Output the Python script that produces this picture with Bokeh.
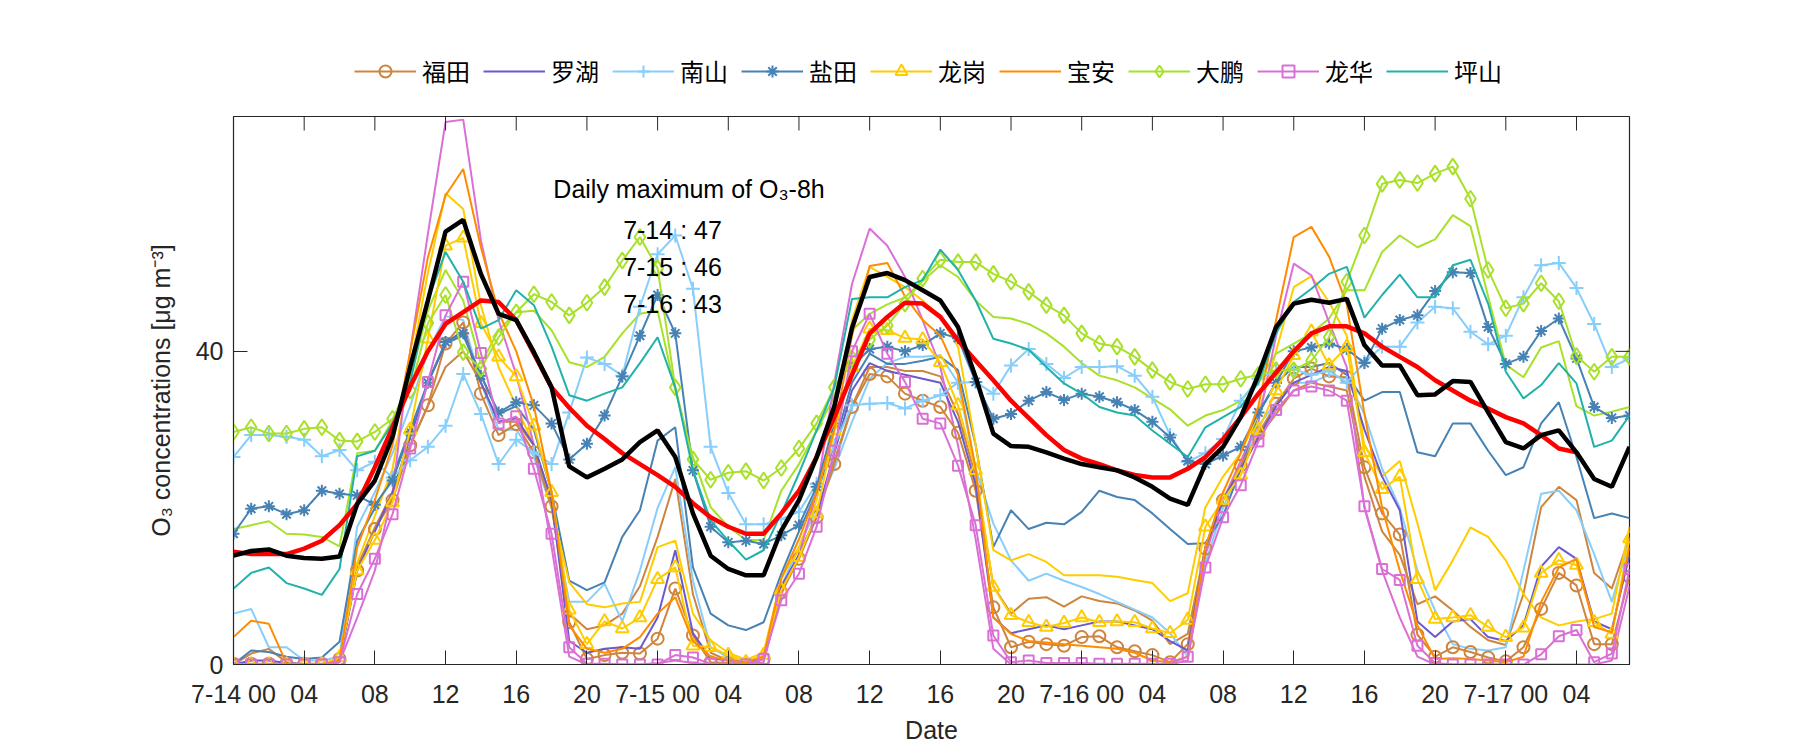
from bokeh.plotting import figure
from bokeh.layouts import column
from bokeh.models import FixedTicker, Legend, LegendItem, Label, Range1d
from bokeh.embed import file_html
from bokeh.resources import INLINE

# ---------------- data (hourly O3, 7-14 00:00 .. 7-17 07:00) ----------------
hours = list(range(80))
tick_hours = list(range(0, 80, 4))
tick_labels = ["7-14 00", "04", "08", "12", "16", "20",
               "7-15 00", "04", "08", "12", "16", "20",
               "7-16 00", "04", "08", "12", "16", "20",
               "7-17 00", "04"]
y_ticks = [0, 40]

futian_A = [0.1, 0.1, 0.1, 0.1, 0.1, 0.1, 0.7, 12.0, 17.3, 21.0,
            28.0, 33.1, 41.0, 43.7, 34.6, 29.3, 30.7, 27.1, 20.2, 5.4,
            0.7, 1.2, 1.5, 1.4, 3.3, 9.7, 3.7, 0.3, 0.2, 0.0,
            0.7, 9.2, 13.5, 18.8, 25.6, 32.9, 37.1, 36.8, 34.6, 33.7,
            32.9, 29.6, 22.2, 7.3, 2.2, 2.9, 2.6, 2.4, 3.5, 3.6,
            2.2, 1.7, 1.2, 0.3, 2.6, 14.8, 21.0, 25.4, 29.5, 33.3,
            36.5, 37.8, 36.8, 36.7, 25.2, 19.3, 16.6, 3.8, 1.0, 2.2,
            1.6, 0.9, 0.4, 2.2, 7.1, 11.7, 10.1, 2.6, 2.6, 11.2]
futian_B = [0.0, 1.4, 2.0, 0.3, 0.0, 0.0, 0.5, 12.5, 17.5, 22.0,
            28.0, 33.0, 38.0, 40.0, 36.0, 31.0, 31.0, 28.0, 21.0, 6.5,
            4.5, 5.0, 6.5, 10.0, 16.3, 23.7, 9.0, 1.5, 0.5, 0.3,
            0.8, 10.0, 14.0, 19.0, 26.0, 33.0, 38.0, 38.0, 37.5, 37.5,
            36.8, 32.0, 24.0, 10.0, 6.5, 8.4, 8.6, 7.4, 8.7, 8.1,
            7.8, 6.9, 5.6, 2.6, 3.9, 15.0, 21.0, 25.0, 29.0, 32.0,
            35.0, 36.0, 35.5, 35.0, 24.0, 17.0, 14.0, 7.7, 8.7, 6.9,
            4.8, 3.1, 2.5, 9.0, 20.1, 22.7, 21.0, 11.7, 9.7, 16.3]
luohu = [0.0, 0.5, 0.5, 0.2, 0.0, 0.0, 0.5, 12.0, 17.0, 22.0,
         29.0, 36.0, 41.0, 42.7, 36.0, 31.0, 31.5, 28.0, 21.0, 3.0,
         1.5, 2.0, 2.2, 2.0, 6.0, 14.6, 4.0, 0.8, 0.5, 0.3,
         0.8, 10.0, 14.0, 19.0, 27.0, 35.0, 38.5, 37.5, 37.0, 36.5,
         36.0, 31.0, 23.0, 6.0, 4.0, 4.5, 5.0, 4.5, 5.0, 5.5,
         5.5, 5.0, 4.5, 3.0, 1.8, 15.0, 21.0, 25.0, 29.0, 33.0,
         36.0, 37.0, 38.0, 37.5, 30.0, 24.0, 19.7, 5.5, 3.5, 5.5,
         5.8, 3.5, 3.0, 5.0, 12.5, 15.0, 13.5, 5.5, 4.5, 14.0]
nanshan_A = [26.5, 29.3, 29.3, 29.1, 28.7, 26.6, 27.4, 24.8, 25.9, 23.9,
             26.1, 27.8, 30.5, 37.1, 32.0, 25.6, 28.7, 27.1, 25.6, 32.2,
             39.2, 38.4, 36.9, 45.7, 52.4, 54.8, 48.0, 27.8, 21.9, 17.9,
             17.9, 18.6, 19.5, 23.1, 28.0, 33.1, 33.3, 33.4, 32.7, 33.7,
             34.4, 36.0, 36.1, 34.6, 38.2, 40.3, 38.4, 36.6, 38.0, 38.0,
             38.1, 36.9, 34.2, 29.3, 25.9, 27.0, 28.8, 33.7, 36.5, 37.5,
             37.7, 37.0, 37.5, 36.0, 38.6, 40.6, 40.6, 43.7, 45.7, 45.5,
             42.5, 40.9, 42.0, 46.9, 51.0, 51.3, 48.1, 43.5, 38.0, 39.1]
nanshan_B = [6.5, 7.1, 2.2, 2.2, 0.5, 0.5, 1.0, 17.6, 22.0, 27.0,
             33.0, 40.0, 44.5, 44.0, 36.0, 30.0, 30.0, 26.5, 20.0, 8.0,
             8.0, 10.3, 5.5, 12.0, 20.0, 25.2, 10.7, 2.2, 0.9, 0.5,
             0.8, 10.0, 15.0, 20.0, 25.0, 31.0, 36.5, 38.5, 39.3, 39.3,
             39.5, 36.0, 25.0, 18.0, 13.3, 10.7, 11.6, 10.7, 9.9, 9.0,
             8.0, 7.0, 6.0, 4.0, 1.0, 13.0, 20.0, 25.5, 30.5, 33.5,
             36.0, 36.0, 37.0, 36.5, 32.0, 25.0, 20.0, 12.0, 6.9, 2.6,
             2.0, 1.8, 2.2, 12.0, 21.8, 22.2, 19.7, 14.1, 8.0, 15.8]
yantian_A = [16.7, 19.9, 20.2, 19.2, 19.7, 22.2, 21.8, 21.6, 20.4, 23.5,
             29.7, 36.0, 41.2, 42.3, 36.9, 32.2, 33.5, 33.1, 30.8, 26.2,
             28.2, 31.8, 36.8, 42.0, 47.2, 42.3, 24.8, 17.6, 15.6, 15.8,
             15.4, 16.5, 17.8, 22.7, 30.8, 38.0, 40.3, 40.6, 40.0, 40.8,
             42.3, 41.7, 36.1, 31.4, 32.0, 33.7, 34.8, 33.8, 34.6, 34.2,
             33.5, 32.5, 31.0, 29.0, 26.0, 25.6, 26.7, 27.8, 32.2, 36.0,
             40.0, 40.5, 41.0, 40.3, 38.5, 42.9, 44.0, 44.6, 47.7, 50.1,
             50.0, 43.1, 38.4, 39.3, 42.6, 44.2, 39.1, 32.9, 31.5, 31.8]
yantian_B = [0.0, 1.8, 1.6, 1.0, 0.7, 0.9, 2.9, 15.8, 20.0, 24.0,
             30.0, 36.0, 41.0, 42.0, 37.0, 32.0, 33.0, 30.0, 22.0, 10.7,
             9.5, 10.5, 16.3, 19.7, 28.6, 30.3, 12.4, 6.5, 5.0, 4.4,
             5.4, 11.6, 17.0, 22.0, 28.0, 36.0, 39.7, 38.4, 38.4, 38.8,
             39.3, 37.6, 28.0, 15.0, 19.7, 17.3, 18.1, 17.9, 19.5, 22.2,
             21.4, 21.0, 19.3, 17.3, 15.4, 15.5, 19.0, 25.0, 32.0, 36.0,
             38.0, 38.0, 38.5, 37.0, 33.7, 34.8, 34.8, 27.1, 26.6, 30.8,
             30.8, 27.3, 24.2, 25.2, 30.8, 33.5, 26.5, 18.7, 19.3, 18.7]
longgang_A = [0.0, 0.0, 0.0, 0.0, 0.0, 0.0, 0.9, 12.0, 15.9, 20.7,
              30.0, 41.6, 53.5, 54.5, 43.6, 39.3, 36.8, 30.5, 22.0, 7.0,
              2.6, 5.5, 4.6, 6.0, 10.9, 12.4, 2.4, 2.2, 1.2, 0.3,
              1.2, 9.5, 13.7, 19.3, 29.9, 38.0, 42.9, 42.7, 41.7, 41.5,
              38.6, 33.1, 24.8, 9.9, 6.3, 5.4, 4.8, 5.3, 6.0, 5.4,
              5.5, 5.4, 4.6, 4.0, 5.7, 17.6, 21.0, 24.2, 30.0, 35.0,
              39.5, 42.5, 38.2, 40.6, 27.1, 22.4, 24.0, 10.9, 5.8, 6.0,
              6.3, 4.8, 3.5, 4.7, 11.7, 13.3, 12.7, 5.4, 3.9, 16.1]
longgang_B = [0.0, 0.0, 0.0, 0.0, 0.0, 0.0, 0.8, 13.0, 19.0, 25.0,
              38.0, 50.0, 60.2, 58.2, 45.9, 38.0, 33.0, 28.0, 20.0, 10.5,
              7.7, 7.3, 7.8, 8.0, 15.0, 15.8, 6.5, 3.1, 1.5, 0.6,
              1.5, 11.0, 15.0, 21.0, 32.0, 44.0, 50.8, 49.5, 48.2, 46.5,
              44.4, 40.6, 28.0, 14.6, 13.3, 14.1, 13.1, 11.4, 11.4, 11.4,
              11.2, 10.8, 10.4, 8.1, 9.1, 20.1, 24.0, 27.0, 32.0, 40.0,
              48.2, 49.6, 46.3, 42.0, 28.0, 24.0, 26.0, 18.0, 9.5, 13.3,
              17.5, 16.3, 13.3, 9.0, 6.0, 5.0, 5.5, 5.8, 6.5, 17.6]
baoan = [3.5, 5.6, 5.2, 0.1, 0.0, 0.0, 0.5, 15.0, 21.0, 28.0,
         40.0, 52.0, 59.9, 63.3, 53.3, 45.0, 40.0, 33.0, 22.0, 5.0,
         2.0, 1.5, 2.0, 3.5, 6.5, 8.6, 3.0, 1.0, 0.5, 0.3,
         1.0, 11.0, 16.0, 22.0, 30.0, 42.0, 50.9, 51.3, 47.0, 44.0,
         42.0, 37.0, 25.0, 6.0, 3.9, 3.0, 2.8, 2.6, 2.4, 2.2,
         2.0, 1.5, 0.5, 0.3, 1.0, 15.0, 22.0, 27.0, 33.0, 44.0,
         54.6, 55.9, 52.1, 46.0, 32.0, 20.0, 12.0, 5.0, 0.7, 0.8,
         0.7, 0.5, 0.3, 1.0, 8.0, 12.4, 13.5, 4.8, 4.1, 15.0]
dapeng_A = [29.7, 30.3, 29.5, 29.5, 30.1, 30.3, 28.6, 28.5, 29.7, 31.4,
            35.0, 43.6, 47.2, 39.9, 37.8, 41.8, 45.0, 47.3, 46.3, 44.6,
            46.2, 48.2, 51.6, 54.6, 50.6, 35.4, 26.2, 23.6, 24.5, 24.7,
            23.5, 25.1, 27.6, 30.8, 35.4, 39.1, 41.5, 43.3, 46.1, 49.3,
            51.7, 51.4, 51.4, 49.9, 48.9, 47.6, 45.9, 44.6, 42.3, 41.0,
            40.6, 39.3, 37.6, 36.1, 35.2, 35.8, 35.8, 36.5, 37.0, 37.6,
            37.6, 38.8, 41.8, 48.9, 54.8, 61.4, 61.9, 61.5, 62.7, 63.6,
            59.5, 50.4, 45.5, 46.1, 48.7, 46.4, 39.4, 37.4, 39.3, 39.3]
dapeng_B = [17.3, 17.8, 18.3, 16.7, 16.6, 16.3, 15.1, 27.0, 27.3, 31.2,
            36.5, 45.2, 50.4, 46.5, 38.4, 42.7, 45.0, 45.2, 42.7, 38.6,
            38.0, 39.3, 42.3, 44.8, 45.2, 35.0, 26.5, 20.1, 17.6, 15.9,
            15.9, 22.2, 25.6, 29.9, 34.2, 42.7, 44.8, 46.0, 46.9, 49.0,
            51.0, 49.5, 46.5, 44.4, 44.2, 43.5, 42.3, 40.6, 38.5, 36.9,
            36.3, 35.4, 34.0, 32.6, 30.5, 31.8, 32.5, 33.7, 36.3, 39.7,
            41.0, 42.3, 44.2, 47.8, 47.8, 52.7, 54.8, 53.3, 54.3, 57.4,
            56.0, 47.0, 38.3, 36.7, 40.5, 41.3, 33.0, 31.8, 32.3, 32.9]
longhua_A = [0.0, 0.0, 0.0, 0.0, 0.0, 0.0, 0.3, 9.0, 13.5, 19.2,
             27.6, 36.1, 44.6, 48.9, 39.8, 30.8, 31.7, 25.0, 16.7, 2.2,
             0.1, 0.1, 0.0, 0.0, 0.0, 1.2, 0.9, 0.1, 0.0, 0.0,
             0.7, 8.2, 11.6, 17.6, 27.3, 40.0, 44.8, 39.7, 36.1, 31.4,
             30.8, 25.4, 17.8, 3.7, 0.3, 0.5, 0.2, 0.2, 0.2, 0.1,
             0.1, 0.1, 0.1, 0.1, 1.0, 12.4, 18.8, 22.9, 28.5, 32.5,
             35.0, 35.5, 35.0, 33.7, 20.2, 12.2, 10.8, 2.4, 0.2, 0.0,
             0.0, 0.0, 0.0, 0.0, 1.3, 3.6, 4.4, 0.3, 1.4, 12.2]
longhua_B = [0.0, 0.0, 0.0, 0.0, 0.0, 0.0, 0.3, 6.0, 12.0, 22.0,
             40.0, 55.0, 69.3, 69.6, 54.2, 44.0, 37.0, 28.0, 15.0, 1.0,
             0.0, 0.0, 0.0, 0.0, 0.2, 0.5, 0.2, 0.0, 0.0, 0.0,
             0.3, 9.0, 14.0, 22.0, 36.0, 48.6, 55.7, 53.5, 49.5, 44.0,
             38.0, 28.0, 16.0, 2.0, 0.0, 0.0, 0.0, 0.0, 0.0, 0.0,
             0.0, 0.0, 0.0, 0.0, 0.5, 14.0, 21.0, 26.0, 31.0, 42.0,
             51.2, 49.7, 43.7, 38.0, 20.0, 12.0, 6.0, 1.0, 0.0, 0.0,
             0.0, 0.0, 0.0, 0.0, 0.0, 0.0, 0.0, 0.0, 0.5, 10.0]
pingshan = [9.7, 11.7, 12.4, 10.4, 9.7, 8.9, 12.2, 26.6, 27.3, 30.8,
            36.0, 46.5, 52.7, 48.9, 42.9, 44.0, 47.8, 45.9, 40.6, 34.4,
            33.7, 34.6, 35.4, 38.5, 41.8, 35.4, 24.8, 18.4, 15.8, 13.4,
            14.6, 19.3, 24.4, 29.9, 35.4, 46.7, 46.9, 46.9, 48.2, 49.1,
            53.0, 50.4, 46.5, 41.6, 41.0, 40.2, 38.0, 35.9, 34.6, 32.9,
            32.2, 31.8, 29.9, 28.2, 26.5, 30.3, 31.6, 32.9, 36.0, 42.3,
            46.3, 48.0, 49.9, 50.8, 44.3, 47.2, 49.8, 46.9, 46.9, 51.0,
            51.7, 46.1, 37.4, 34.0, 35.7, 38.5, 35.9, 27.8, 28.6, 31.8]
city_mean = [13.9, 14.5, 14.7, 13.9, 13.6, 13.5, 13.8, 20.5, 23.5, 29.1,
             38.0, 46.5, 55.3, 56.8, 49.9, 44.8, 44.0, 39.9, 35.4, 25.3,
             23.9, 25.0, 26.2, 28.4, 29.9, 26.5, 19.3, 13.9, 12.2, 11.4,
             11.4, 17.1, 21.0, 26.5, 33.0, 43.0, 49.5, 50.0, 49.1, 47.8,
             46.5, 43.1, 36.7, 29.5, 27.9, 27.8, 27.1, 26.3, 25.6, 25.2,
             24.8, 23.9, 22.7, 21.2, 20.4, 25.6, 27.8, 31.6, 37.0, 43.1,
             46.1, 46.6, 46.2, 46.7, 40.8, 38.2, 38.2, 34.4, 34.5, 36.2,
             36.1, 32.2, 28.4, 27.6, 29.3, 29.9, 27.1, 23.7, 22.7, 27.8]
o3_8h = [14.4, 14.1, 14.1, 14.1, 14.8, 15.8, 17.8, 20.5, 25.2, 30.3,
         35.5, 40.0, 43.5, 45.0, 46.5, 46.3, 44.0, 39.7, 35.4, 32.8,
         30.5, 28.8, 27.0, 25.6, 24.2, 22.7, 20.6, 18.8, 17.6, 16.7,
         16.7, 19.3, 22.2, 26.5, 31.6, 37.0, 42.3, 44.4, 46.2, 46.1,
         44.4, 41.4, 38.8, 36.3, 33.7, 31.5, 29.3, 27.4, 26.3, 25.6,
         24.8, 24.2, 23.9, 23.9, 25.0, 26.5, 28.8, 31.6, 34.6, 37.3,
         40.0, 42.3, 43.2, 43.2, 42.3, 40.6, 39.3, 38.0, 36.3, 35.0,
         33.7, 32.7, 31.6, 30.8, 29.3, 27.6, 27.1]
hours_8h = hours[:len(o3_8h)]

daily_max_title = "Daily maximum of O\u2083-8h"
daily_max_days = ["7-14", "7-15", "7-16"]
daily_max_vals = [47, 46, 43]

# ---------------- styling ----------------
FONT = "Liberation Sans"
AX = "#262626"
W = 1800
LH = 100            # legend strip height
H = 650             # main plot height (LH + H = 750)
BL, BR, BT, BB = 233, 171, 16, 86
X0, X1, Y0, Y1 = 0, 79, 0, 70
TICK = 14

# (label, colour, marked station, plain station, marker)
districts = [
    ("福田", "#CD853F", futian_A, futian_B, "circle"),
    ("罗湖", "#6A5ACD", None, luohu, None),
    ("南山", "#87CEFA", nanshan_A, nanshan_B, "cross"),
    ("盐田", "#4682B4", yantian_A, yantian_B, "asterisk"),
    ("龙岗", "#FFCC00", longgang_A, longgang_B, "triangle"),
    ("宝安", "#FF8C00", None, baoan, None),
    ("大鹏", "#A8E02A", dapeng_A, dapeng_B, "diamond"),
    ("龙华", "#DA70D6", longhua_A, longhua_B, "square"),
    ("坪山", "#20B2AA", None, pingshan, None),
]
marker_size = {"circle": 12, "cross": 14, "asterisk": 12, "triangle": 13,
               "diamond": 16, "square": 10}

p = figure(width=W, height=H, output_backend="svg", toolbar_location=None,
           x_range=Range1d(X0, X1), y_range=Range1d(Y0, Y1),
           min_border_left=BL, min_border_right=BR,
           min_border_top=BT, min_border_bottom=BB)
p.xgrid.visible = False
p.ygrid.visible = False
p.outline_line_color = AX
p.outline_line_width = 1.2

# plain station lines first
for name, col, marked, plain, mk in districts:
    if marked is not None:
        p.line(hours, plain, line_color=col, line_width=2)

for name, col, marked, plain, mk in districts:
    if marked is None:
        p.line(hours, plain, line_color=col, line_width=2)
    else:
        p.line(hours, marked, line_color=col, line_width=2)
        p.scatter(hours, marked, marker=mk, size=marker_size[mk],
                  line_color=col, line_width=2, fill_color=None)

p.line(hours_8h, o3_8h, line_color="#FF0000", line_width=4.5)
p.line(hours, city_mean, line_color="#000000", line_width=4.5)

# inward ticks on the top and right edges of the box (MATLAB "box on")
frame_w = W - BL - BR
frame_h = H - BT - BB
dy = TICK * (Y1 - Y0) / frame_h
dx = TICK * (X1 - X0) / frame_w
p.segment(x0=tick_hours, y0=[Y1] * len(tick_hours), x1=tick_hours,
          y1=[Y1 - dy] * len(tick_hours), line_color=AX, line_width=1)
p.segment(x0=[X1] * len(y_ticks), y0=y_ticks, x1=[X1 - dx] * len(y_ticks),
          y1=y_ticks, line_color=AX, line_width=1)

# axes
xa = p.xaxis[0]
xa.ticker = FixedTicker(ticks=tick_hours, minor_ticks=[])
xa.major_label_overrides = {h: t for h, t in zip(tick_hours, tick_labels)}
xa.axis_label = "Date"
ya = p.yaxis[0]
ya.ticker = FixedTicker(ticks=y_ticks, minor_ticks=[])
ya.axis_label = "O\u2083 concentrations [\u03bcg m\u207b\u00b3]"
for ax in (xa, ya):
    ax.major_tick_in = TICK
    ax.major_tick_out = 0
    ax.minor_tick_in = 0
    ax.minor_tick_out = 0
    ax.axis_line_color = AX
    ax.major_tick_line_color = AX
    ax.major_label_text_font = FONT
    ax.major_label_text_font_size = "25px"
    ax.major_label_text_color = AX
    ax.axis_label_text_font = FONT
    ax.axis_label_text_font_size = "25px"
    ax.axis_label_text_font_style = "normal"
    ax.axis_label_text_color = AX
xa.major_label_standoff = 15
xa.axis_label_standoff = 5
ya.major_label_standoff = 10
ya.axis_label_standoff = 18

# annotation
p.add_layout(Label(x=18.1, y=60.8, text=daily_max_title, text_font=FONT,
                   text_font_size="25px", text_baseline="middle", text_color="#000000"))
for i, (d, v) in enumerate(zip(daily_max_days, daily_max_vals)):
    p.add_layout(Label(x=22.05, y=55.5 - i * 4.7, text=f"{d} : {v}", text_font=FONT,
                       text_font_size="25px", text_baseline="middle", text_color="#000000"))

# ---------------- legend strip (separate figure above the plot) ----------------
# Its ranges sit far away from the data, so the proxy glyphs stay out of view
# and only the legend (which samples their styles) is drawn.
lg = figure(width=W, height=LH, output_backend="svg", toolbar_location=None,
            x_axis_location=None, y_axis_location=None, min_border=0,
            x_range=Range1d(X0, X1), y_range=Range1d(-300, -200))
lg.xgrid.visible = False
lg.ygrid.visible = False
lg.outline_line_color = None
items = []
for name, col, marked, plain, mk in districts:
    series = marked if marked is not None else plain
    rs = [lg.line(hours, series, line_color=col, line_width=2)]
    if mk is not None:
        rs.append(lg.scatter(hours, series, marker=mk, size=marker_size[mk],
                             line_color=col, line_width=2, fill_color=None))
    items.append(LegendItem(label=name, renderers=rs))
legend = Legend(items=items, orientation="horizontal", location=(121, 12),
                label_text_font="Noto Sans CJK SC", label_text_font_size="24px",
                label_text_color="#000000", glyph_width=62, glyph_height=30,
                label_height=24, label_standoff=6, spacing=13, padding=0, margin=0,
                border_line_color=None, background_fill_alpha=0)
lg.add_layout(legend, "center")

open("out.html", "w").write(file_html(column(lg, p), INLINE))
